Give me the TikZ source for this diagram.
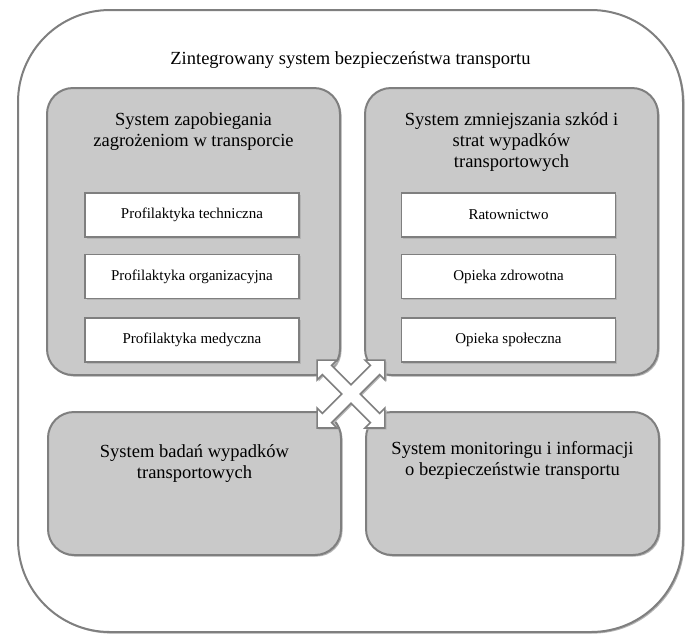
\documentclass[tikz,border=0pt]{standalone}
\usepackage{fontspec}
\setmainfont{Liberation Serif}
\usetikzlibrary{positioning, shadows}

\definecolor{linegray}{HTML}{7F7F7F}
\definecolor{boxgray}{HTML}{C9C9C9}
\definecolor{shadegray}{HTML}{B4B4B4}

\tikzset{
  myshadow/.style={drop shadow={shadow xshift=1.6pt, shadow yshift=-1.6pt,
    fill=shadegray, opacity=1}},
  outerbox/.style={draw=linegray, line width=2pt, fill=white,
    rounded corners=92pt, myshadow},
  sysbox/.style={draw=linegray, line width=2pt, fill=boxgray,
    rounded corners=26pt, minimum width=293pt, myshadow},
  subbox/.style={draw=linegray, line width=1.6pt, fill=white,
    minimum width=214pt, minimum height=44pt, myshadow,
    font=\fontsize{15}{18}\selectfont},
  title/.style={align=center, inner sep=0pt,
    font=\fontsize{18.5}{21}\selectfont}
}

\begin{document}
\begin{tikzpicture}[x=1pt, y=-1pt]
\useasboundingbox (0,0) rectangle (690,633);

\node[outerbox, minimum width=665pt, minimum height=622pt] (all) at (350.5,321) {};
\node[title, below=42pt of all.north] (alltitle)
    {Zintegrowany system bezpieczeństwa transportu};

% upper systems
\node[sysbox, minimum height=287pt] (prev) at (193.5,231.5) {};
\node[sysbox, minimum height=287pt] (resc) at (511.5,231.5) {};
\node[title, below=25pt of prev.north] (prevtitle)
    {System zapobiegania\\zagrożeniom w transporcie};
\node[title, below=25pt of resc.north] (resctitle)
    {System zmniejszania szkód i\\strat wypadków\\transportowych};

\node[subbox] (tech) at (192,215) {Profilaktyka techniczna};
\node[subbox, below=16pt of tech] (org) {Profilaktyka organizacyjna};
\node[subbox, below=18pt of org] (med) {Profilaktyka medyczna};

\node[subbox] (ratown) at (508.5,215) {Ratownictwo};
\node[subbox, below=16pt of ratown] (zdrow) {Opieka zdrowotna};
\node[subbox, below=18pt of zdrow] (spol) {Opieka społeczna};

% lower systems
\node[sysbox, minimum height=143pt] (bad) at (194.5,483.5) {};
\node[sysbox, minimum height=143pt] (mon) at (512.5,483.5) {};
\node[title, below=33pt of bad.north] (badtitle)
    {System badań wypadków\\transportowych};
\node[title, below=30pt of mon.north] (montitle)
    {System monitoringu i informacji\\o bezpieczeństwie transportu};

% four-way arrow
\begin{scope}[shift={(351,394)}, rotate=45]
\path[draw=linegray, line width=1.6pt, fill=white, line join=miter, myshadow]
  (6.5,6.5) -- (34,6.5) -- (34,14) -- (48,0) -- (34,-14) -- (34,-6.5)
  -- (6.5,-6.5) -- (6.5,-34) -- (14,-34) -- (0,-48) -- (-14,-34)
  -- (-6.5,-34) -- (-6.5,-6.5) -- (-34,-6.5) -- (-34,-14) -- (-48,0)
  -- (-34,14) -- (-34,6.5) -- (-6.5,6.5) -- (-6.5,34) -- (-14,34)
  -- (0,48) -- (14,34) -- (6.5,34) -- cycle;
\end{scope}
\end{tikzpicture}
\end{document}
